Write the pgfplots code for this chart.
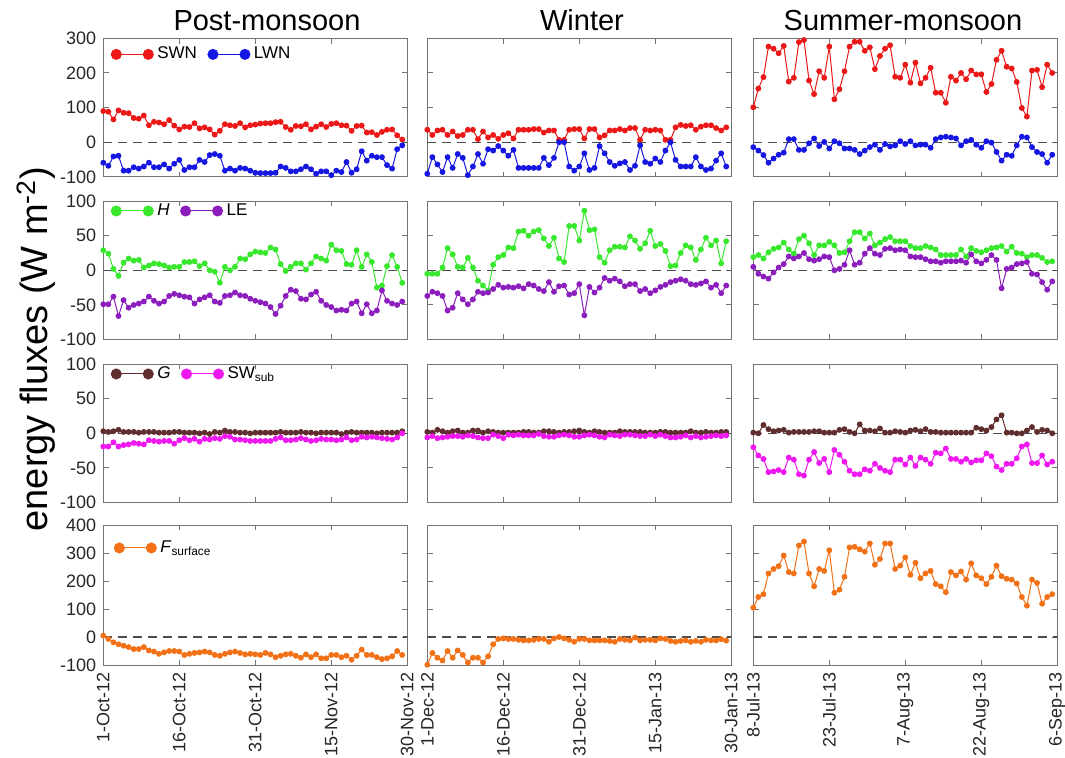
\documentclass[border=0pt]{standalone}
\usepackage{pgfplots}
\pgfplotsset{compat=1.18}
\usepackage{fontspec}
\setmainfont{Liberation Sans}

\definecolor{cSWN}{RGB}{236,24,24}
\definecolor{cLWN}{RGB}{22,22,226}
\definecolor{cH}{RGB}{55,232,45}
\definecolor{cLE}{RGB}{140,30,190}
\definecolor{cG}{RGB}{96,46,46}
\definecolor{cSW}{RGB}{240,24,240}
\definecolor{cF}{RGB}{242,112,22}

\pgfplotsset{
  table/daily/.style={x expr=\coordindex, y index=0, header=false, row sep=\\},
  legend image code/.code={\draw[#1] plot coordinates {(0pt,0pt) (16pt,0pt)};},
  ser/.style={line width=0.5pt, mark=*, mark size=1.2pt, mark options={solid}},
  zero/.style={black!70, line width=0.55pt, dash pattern=on 4.5pt off 3pt, mark=none, forget plot},
  panel/.style={
    scale only axis, width=152pt, height=69.3pt, anchor=north west,
    xmin=0, xmax=60, xtick={0,15,30,45,60}, xticklabels={},
    tick align=inside, major tick length=2.6pt,
    axis line style={black!55, line width=0.5pt},
    every tick/.style={black!55, line width=0.5pt},
    tick label style={font=\fontsize{9}{10.5}\selectfont, black!85},
    /pgf/number format/assume math mode=true,
    legend style={draw=none, fill=none, anchor=west, inner sep=0pt,
      font=\fontsize{8.5}{10}\selectfont,
      /tikz/every even column/.append style={column sep=3.5pt}},
    legend columns=2, legend cell align=left,
  },
  rA/.style={ymin=-100, ymax=300, ytick={-100,0,100,200,300}},
  rB/.style={ymin=-100, ymax=100, ytick={-100,-50,0,50,100}},
  rD/.style={ymin=-100, ymax=400, ytick={-100,0,100,200,300,400}, height=70pt},
  noy/.style={yticklabels={}},
  dates/.style={xticklabel style={rotate=90, anchor=east}},
}

\begin{document}
\begin{tikzpicture}
\path[use as bounding box] (0pt,0pt) rectangle (532.5pt,-378.5pt);

% season titles and shared y label
\node[anchor=base, font=\fontsize{14.5}{17}\selectfont] at (133.5pt,-15pt) {Post-monsoon};
\node[anchor=base, font=\fontsize{14.5}{17}\selectfont] at (291pt,-15pt) {Winter};
\node[anchor=base, font=\fontsize{14.5}{17}\selectfont] at (451.5pt,-15pt) {Summer-monsoon};
\node[rotate=90, font=\fontsize{19}{22}\selectfont] at (18pt,-174.5pt) {energy fluxes (W m\textsuperscript{-2})};

%% ---------------- row 1: net shortwave / longwave ----------------
\begin{axis}[panel, rA, at={(51.65pt,-19.15pt)}, legend style={at={(0.025,0.884)}}]
\addlegendimage{ser, cSWN, mark size=2.5pt}\addlegendentry{SWN}
\addlegendimage{ser, cLWN, mark size=2.5pt}\addlegendentry{LWN}
\addplot[zero] coordinates {(0,0) (60,0)};
\addplot[ser, cSWN, forget plot] table[daily] {90\\88\\66\\92\\85\\84\\70\\68\\77\\49\\59\\57\\52\\64\\48\\37\\45\\44\\55\\40\\43\\37\\22\\33\\52\\49\\47\\55\\43\\49\\51\\54\\55\\55\\58\\59\\44\\36\\47\\46\\52\\37\\45\\52\\44\\53\\55\\49\\48\\33\\47\\48\\28\\29\\21\\30\\36\\37\\20\\8\\};
\addplot[ser, cLWN, forget plot] table[daily] {-59\\-68\\-41\\-39\\-82\\-82\\-72\\-76\\-70\\-59\\-72\\-72\\-64\\-76\\-62\\-51\\-80\\-72\\-72\\-51\\-57\\-37\\-34\\-39\\-82\\-76\\-82\\-74\\-76\\-82\\-88\\-89\\-89\\-89\\-88\\-70\\-74\\-84\\-84\\-78\\-70\\-78\\-91\\-84\\-84\\-95\\-82\\-86\\-57\\-88\\-78\\-26\\-53\\-39\\-43\\-43\\-66\\-76\\-20\\-9\\};
\end{axis}

\begin{axis}[panel, rA, noy, at={(213.65pt,-19.15pt)}]
\addplot[zero] coordinates {(0,0) (60,0)};
\addplot[ser, cSWN] table[daily] {36\\21\\34\\36\\21\\31\\18\\21\\36\\36\\9\\31\\14\\21\\10\\21\\26\\11\\36\\36\\36\\38\\38\\28\\34\\34\\7\\7\\36\\38\\38\\11\\38\\38\\14\\20\\34\\34\\38\\34\\41\\41\\7\\36\\34\\36\\34\\7\\7\\43\\50\\47\\49\\36\\45\\49\\49\\41\\34\\43\\};
\addplot[ser, cLWN] table[daily] {-91\\-43\\-64\\-86\\-43\\-74\\-34\\-45\\-95\\-70\\-34\\-62\\-20\\-24\\-11\\-24\\-39\\-22\\-74\\-74\\-74\\-74\\-74\\-45\\-66\\-45\\0\\0\\-70\\-82\\-70\\-32\\-80\\-74\\-11\\-32\\-57\\-68\\-61\\-57\\-80\\-68\\-9\\-57\\-62\\-47\\-57\\-24\\0\\-51\\-70\\-70\\-70\\-43\\-70\\-80\\-76\\-53\\-32\\-70\\};
\end{axis}

\begin{axis}[panel, rA, noy, at={(376.65pt,-19.15pt)}]
\addplot[zero] coordinates {(0,0) (60,0)};
\addplot[ser, cSWN] table[daily] {101\\155\\188\\276\\270\\257\\278\\175\\186\\289\\295\\178\\139\\205\\186\\276\\124\\153\\205\\276\\290\\290\\264\\274\\211\\249\\270\\280\\189\\186\\224\\172\\230\\170\\186\\215\\143\\143\\114\\189\\178\\200\\182\\207\\196\\196\\145\\168\\238\\264\\218\\213\\174\\99\\74\\207\\209\\159\\224\\200\\};
\addplot[ser, cLWN] table[daily] {-14\\-24\\-37\\-59\\-47\\-36\\-30\\9\\9\\-22\\-22\\-3\\11\\-11\\1\\-18\\3\\-3\\-18\\-18\\-22\\-34\\-24\\-14\\-7\\-22\\-5\\-12\\-9\\3\\-5\\3\\-9\\-7\\-7\\-16\\9\\14\\16\\14\\11\\-9\\3\\7\\-7\\-16\\3\\-1\\-28\\-53\\-36\\-39\\-9\\16\\14\\-14\\-28\\-34\\-59\\-36\\};
\end{axis}

%% ---------------- row 2: sensible / latent heat ----------------
\begin{axis}[panel, rB, at={(51.65pt,-100.5pt)}, legend style={at={(0.025,0.928)}}]
\addlegendimage{ser, cH, mark size=2.5pt}\addlegendentry{\textit{H}}
\addlegendimage{ser, cLE, mark size=2.5pt}\addlegendentry{LE}
\addplot[zero] coordinates {(0,0) (60,0)};
\addplot[ser, cH, forget plot] table[daily] {29\\24\\2\\-8\\11\\17\\14\\15\\4\\7\\10\\9\\7\\4\\5\\5\\12\\12\\13\\6\\10\\0\\-2\\-18\\5\\0\\5\\17\\16\\23\\27\\26\\25\\33\\30\\9\\-1\\5\\10\\10\\1\\10\\20\\17\\14\\37\\29\\28\\9\\8\\29\\5\\23\\12\\-25\\-22\\6\\22\\5\\-18\\};
\addplot[ser, cLE, forget plot] table[daily] {-49\\-49\\-38\\-66\\-43\\-54\\-50\\-48\\-45\\-38\\-44\\-48\\-45\\-37\\-34\\-36\\-38\\-39\\-48\\-42\\-39\\-36\\-45\\-47\\-37\\-36\\-32\\-36\\-37\\-41\\-44\\-46\\-48\\-53\\-63\\-51\\-37\\-28\\-30\\-41\\-42\\-35\\-31\\-44\\-50\\-53\\-58\\-57\\-58\\-48\\-45\\-62\\-49\\-62\\-58\\-29\\-44\\-48\\-50\\-45\\};
\end{axis}

\begin{axis}[panel, rB, noy, at={(213.65pt,-100.5pt)}]
\addplot[zero] coordinates {(0,0) (60,0)};
\addplot[ser, cH] table[daily] {-5\\-5\\-5\\4\\32\\23\\5\\4\\18\\4\\-15\\-22\\-29\\8\\19\\22\\33\\32\\56\\57\\50\\56\\58\\46\\35\\47\\17\\12\\64\\64\\43\\86\\58\\59\\19\\11\\29\\34\\34\\33\\49\\43\\31\\39\\57\\35\\38\\28\\6\\7\\25\\36\\33\\15\\30\\47\\36\\43\\10\\42\\};
\addplot[ser, cLE] table[daily] {-37\\-31\\-33\\-37\\-58\\-54\\-33\\-42\\-49\\-42\\-31\\-33\\-32\\-27\\-21\\-25\\-24\\-25\\-23\\-26\\-20\\-22\\-27\\-30\\-17\\-31\\-23\\-22\\-35\\-33\\-20\\-65\\-24\\-32\\-25\\-11\\-15\\-12\\-16\\-23\\-20\\-20\\-30\\-27\\-33\\-29\\-24\\-21\\-17\\-15\\-13\\-15\\-20\\-21\\-19\\-16\\-25\\-21\\-33\\-22\\};
\end{axis}

\begin{axis}[panel, rB, noy, at={(376.65pt,-100.5pt)}]
\addplot[zero] coordinates {(0,0) (60,0)};
\addplot[ser, cH] table[daily] {19\\22\\17\\26\\31\\33\\40\\30\\24\\45\\50\\39\\22\\36\\36\\41\\36\\25\\26\\42\\55\\55\\46\\53\\36\\40\\45\\48\\42\\42\\42\\35\\32\\32\\35\\33\\30\\22\\22\\22\\22\\30\\20\\32\\28\\26\\29\\32\\33\\35\\27\\34\\25\\24\\19\\22\\22\\18\\12\\13\\};
\addplot[ser, cLE] table[daily] {5\\-5\\-9\\-12\\-3\\4\\9\\20\\17\\20\\25\\16\\14\\16\\20\\19\\0\\2\\8\\29\\8\\11\\24\\32\\24\\22\\31\\32\\29\\30\\29\\20\\19\\19\\16\\13\\13\\11\\13\\13\\13\\14\\11\\23\\13\\10\\15\\22\\15\\-26\\2\\4\\9\\10\\12\\-5\\-6\\-17\\-28\\-16\\};
\end{axis}

%% ---------------- row 3: ground heat flux / subsurface shortwave ----------------
\begin{axis}[panel, rB, at={(51.65pt,-182pt)}, legend style={at={(0.025,0.928)}}]
\addlegendimage{ser, cG, mark size=2.5pt}\addlegendentry{\textit{G}}
\addlegendimage{ser, cSW, mark size=2.5pt}\addlegendentry{SW\textsubscript{sub}}
\addplot[zero] coordinates {(0,0) (60,0)};
\addplot[ser, cG, forget plot] table[daily] {3\\2\\3\\5\\2\\2\\2\\1\\2\\2\\2\\1\\1\\1\\2\\2\\1\\1\\1\\0\\1\\-1\\2\\1\\4\\2\\2\\1\\1\\0\\1\\1\\1\\1\\1\\2\\1\\1\\1\\2\\1\\1\\0\\1\\1\\1\\1\\-1\\1\\2\\1\\1\\1\\1\\0\\1\\1\\1\\1\\3\\};
\addplot[ser, cSW, forget plot] table[daily] {-19\\-19\\-13\\-19\\-17\\-16\\-14\\-15\\-16\\-10\\-11\\-12\\-11\\-11\\-15\\-10\\-7\\-10\\-8\\-12\\-8\\-9\\-7\\-8\\-4\\-5\\-9\\-9\\-10\\-11\\-11\\-11\\-11\\-11\\-8\\-6\\-10\\-10\\-9\\-7\\-9\\-11\\-10\\-8\\-9\\-9\\-10\\-9\\-6\\-10\\-9\\-5\\-6\\-5\\-6\\-7\\-8\\-9\\-6\\0\\};
\end{axis}

\begin{axis}[panel, rB, noy, at={(213.65pt,-182pt)}]
\addplot[zero] coordinates {(0,0) (60,0)};
\addplot[ser, cG] table[daily] {2\\1\\5\\3\\1\\3\\4\\1\\1\\4\\4\\1\\3\\2\\1\\1\\1\\1\\1\\2\\2\\1\\1\\3\\3\\2\\1\\2\\2\\3\\4\\2\\1\\3\\2\\1\\1\\1\\3\\2\\2\\2\\2\\1\\1\\1\\2\\2\\1\\1\\1\\1\\3\\1\\1\\2\\1\\1\\2\\2\\};
\addplot[ser, cSW] table[daily] {-6\\-4\\-7\\-6\\-5\\-4\\-4\\-5\\-3\\-4\\-6\\-7\\-7\\-2\\-4\\-7\\-2\\-3\\-2\\-3\\-3\\-3\\-1\\-4\\-5\\-5\\-3\\-2\\-3\\-5\\-5\\-3\\-2\\-3\\-5\\-6\\-2\\-3\\-4\\-2\\-2\\-3\\-4\\-4\\-2\\-4\\-2\\-4\\-6\\-6\\-5\\-3\\-6\\-4\\-6\\-5\\-4\\-3\\-4\\-3\\};
\end{axis}

\begin{axis}[panel, rB, noy, at={(376.65pt,-182pt)}]
\addplot[zero] coordinates {(0,0) (60,0)};
\addplot[ser, cG] table[daily] {1\\0\\12\\6\\3\\4\\5\\1\\2\\2\\2\\2\\3\\3\\1\\1\\1\\5\\6\\2\\0\\13\\4\\4\\3\\7\\1\\1\\3\\2\\1\\4\\5\\3\\6\\2\\2\\1\\1\\1\\1\\1\\1\\1\\8\\6\\4\\9\\20\\26\\1\\1\\0\\0\\4\\9\\2\\5\\4\\0\\};
\addplot[ser, cSW] table[daily] {-20\\-32\\-37\\-56\\-55\\-53\\-56\\-35\\-38\\-59\\-61\\-38\\-27\\-43\\-37\\-56\\-24\\-31\\-41\\-54\\-59\\-59\\-52\\-54\\-44\\-50\\-54\\-56\\-38\\-38\\-45\\-35\\-47\\-35\\-38\\-44\\-28\\-29\\-22\\-37\\-37\\-41\\-37\\-42\\-39\\-39\\-29\\-33\\-48\\-53\\-44\\-44\\-36\\-19\\-16\\-43\\-43\\-32\\-45\\-41\\};
\end{axis}

%% ---------------- row 4: net surface flux ----------------
\begin{axis}[panel, rD, dates, at={(51.65pt,-262.5pt)},
  xticklabels={1-Oct-12,16-Oct-12,31-Oct-12,15-Nov-12,30-Nov-12},
  legend style={at={(0.035,0.836)}}]
\addlegendimage{ser, cF, mark size=2.5pt}\addlegendentry{\textit{F}\textsubscript{surface}}
\addplot[zero] coordinates {(0,0) (60,0)};
\addplot[ser, cF, forget plot] table[daily] {5\\-7\\-19\\-26\\-31\\-36\\-43\\-43\\-36\\-48\\-52\\-60\\-55\\-50\\-50\\-52\\-64\\-60\\-57\\-55\\-52\\-55\\-64\\-67\\-60\\-55\\-52\\-57\\-62\\-60\\-62\\-64\\-57\\-62\\-72\\-67\\-62\\-60\\-67\\-74\\-62\\-72\\-62\\-76\\-76\\-64\\-64\\-72\\-67\\-81\\-67\\-45\\-64\\-64\\-72\\-79\\-76\\-69\\-50\\-64\\};
\end{axis}

\begin{axis}[panel, rD, noy, dates, at={(213.65pt,-262.5pt)},
  xticklabels={1-Dec-12,16-Dec-12,31-Dec-12,15-Jan-13,30-Jan-13}]
\addplot[zero] coordinates {(0,0) (60,0)};
\addplot[ser, cF] table[daily] {-99\\-57\\-74\\-84\\-50\\-74\\-48\\-64\\-91\\-74\\-74\\-91\\-69\\-26\\-7\\-5\\-7\\-7\\-10\\-12\\-12\\-10\\-7\\-7\\-17\\-5\\0\\-5\\-10\\-17\\-7\\-7\\-12\\-12\\-12\\-12\\-14\\-17\\-7\\-10\\-12\\-2\\-12\\-10\\-10\\-12\\-5\\-7\\-14\\-17\\-14\\-12\\-17\\-14\\-17\\-10\\-12\\-12\\-8\\-13\\};
\end{axis}

\begin{axis}[panel, rD, noy, dates, at={(376.65pt,-262.5pt)},
  xticklabels={8-Jul-13,23-Jul-13,7-Aug-13,22-Aug-13,6-Sep-13}]
\addplot[zero] coordinates {(0,0) (60,0)};
\addplot[ser, cF] table[daily] {105\\143\\153\\227\\243\\253\\291\\232\\227\\327\\341\\227\\181\\243\\236\\310\\158\\169\\215\\320\\322\\313\\305\\334\\258\\279\\334\\334\\243\\255\\284\\222\\265\\210\\227\\236\\189\\181\\160\\232\\220\\234\\205\\263\\220\\210\\189\\215\\255\\217\\208\\205\\191\\143\\112\\205\\193\\119\\143\\153\\};
\end{axis}
\end{tikzpicture}
\end{document}
